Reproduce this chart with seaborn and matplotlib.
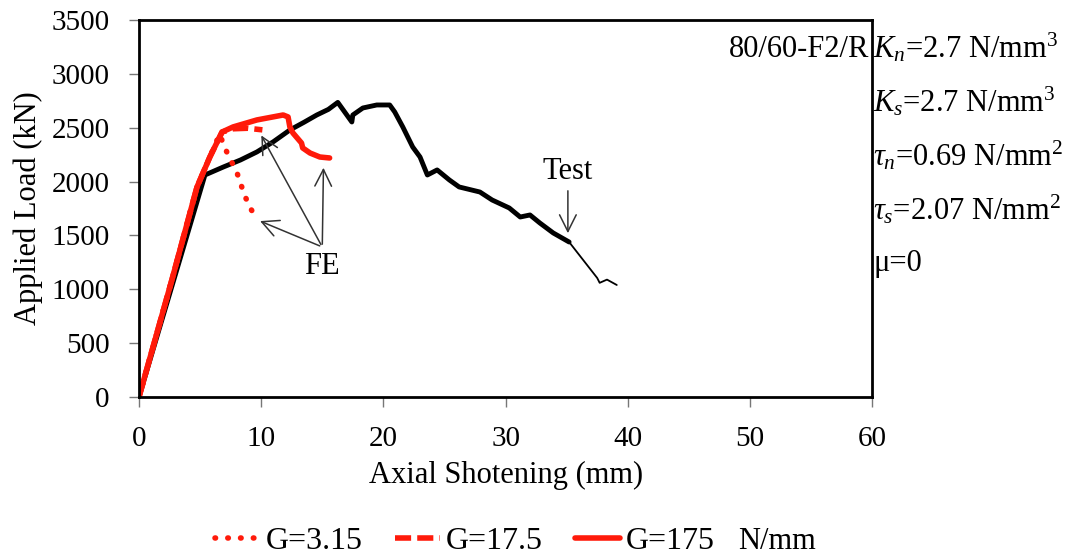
import matplotlib
matplotlib.use("Agg")
import matplotlib.pyplot as plt
import seaborn as sns

# test curve (thick part) and its thin tail
test_x = [0, 2.7, 5.4, 6.9, 8.3, 9.65, 11.0, 12.35, 13.5, 14.55, 15.5, 16.27,
          17.42, 17.5, 18.32, 19.46, 20.52, 20.93, 21.59, 22.4, 23.0, 23.6,
          24.4, 25.4, 26.2, 27.9, 28.9, 30.3, 31.2, 32.0, 32.8, 33.9, 35.2]
test_y = [0, 1030, 2061, 2135, 2200, 2275, 2370, 2479, 2550, 2618, 2670, 2735,
          2553, 2618, 2683, 2711, 2711, 2646, 2507, 2321, 2228, 2061,
          2108, 2015, 1950, 1903, 1829, 1755, 1671, 1690, 1616, 1523, 1439]
tail_x = [35.2, 37.5, 37.7, 38.3, 39.1]
tail_y = [1439, 1105, 1060, 1090, 1040]

# FE curves
g175_x = [0, 2.7, 4.75, 5.8, 6.8, 7.7, 9.65, 11.8, 12.2, 12.35, 12.6, 13.3,
          13.4, 14.0, 14.8, 15.6]
g175_y = [0, 1090, 1950, 2228, 2460, 2507, 2572, 2618, 2600, 2507, 2451, 2358,
          2312, 2265, 2228, 2219]
g175b_x = [0, 2.7, 4.75, 5.8, 6.8, 7.7, 8.9, 10.1]
g175b_y = [0, 1090, 1950, 2228, 2460, 2490, 2495, 2480]
g3_x = [0, 2.7, 4.75, 5.8, 6.6, 7.03, 7.5, 8.0, 8.3, 8.67, 9.1, 9.6]
g3_y = [0, 1090, 1950, 2228, 2440, 2312, 2200, 2089, 1987, 1866, 1755, 1665]

legend_labels = ["G=3.15", "G=17.5", "G=175"]
params = [r"$K_n$=2.7 N/mm$^3$", r"$K_s$=2.7 N/mm$^3$",
          r"$\tau_n$=0.69 N/mm$^2$", r"$\tau_s$=2.07 N/mm$^2$", "\u03bc=0"]

sns.set_style("ticks")
plt.rcParams['font.family'] = ['Liberation Serif', 'DejaVu Serif']
plt.rcParams['mathtext.fontset'] = 'custom'
plt.rcParams['mathtext.rm'] = 'Liberation Serif'
plt.rcParams['mathtext.it'] = 'Liberation Serif:italic'
plt.rcParams['text.color'] = 'black'
plt.rcParams['axes.labelcolor'] = 'black'
plt.rcParams['xtick.labelcolor'] = 'black'
plt.rcParams['ytick.labelcolor'] = 'black'

fig = plt.figure(figsize=(10.79, 5.58), dpi=100)
ax = fig.add_axes([0.1288, 0.2885, 0.6795, 0.6757])

red = '#ff1a0a'
sns.lineplot(x=test_x, y=test_y, sort=False, estimator=None, color='black', lw=3.5, ax=ax)
sns.lineplot(x=tail_x, y=tail_y, sort=False, estimator=None, color='black', lw=1.3, ax=ax)
l1 = sns.lineplot(x=g3_x, y=g3_y, sort=False, estimator=None, color=red, lw=4,
                  linestyle=(0, (0.1, 2.2)), dash_capstyle='round', ax=ax).lines[-1]
l2 = sns.lineplot(x=g175b_x, y=g175b_y, sort=False, estimator=None, color=red, lw=4,
                  linestyle=(0, (2.9, 1.1)), ax=ax).lines[-1]
l3 = sns.lineplot(x=g175_x, y=g175_y, sort=False, estimator=None, color=red, lw=4,
                  solid_capstyle='round', ax=ax).lines[-1]

ax.set_xlim(0, 60)
ax.set_ylim(0, 3500)
ax.set_xticks(range(0, 61, 10))
ax.set_yticks(range(0, 3501, 500))
ax.tick_params(direction='out', length=7, width=1, color='#777777', labelsize=21)
ax.tick_params(axis='y', pad=14)
ax.tick_params(axis='x', pad=14)
for s in ax.spines.values():
    s.set_visible(True)
    s.set_linewidth(2)
    s.set_color('black')
ax.set_xlabel("Axial Shotening (mm)", fontsize=22, labelpad=6)
ax.set_ylabel("Applied Load (kN)", fontsize=22, labelpad=6)

# annotations
arr = dict(arrowstyle='->', color='#333333', lw=1.1, mutation_scale=30)
for hx, hy in [(9.7, 1643), (9.9, 2451), (15.1, 2154)]:
    ax.annotate("", xy=(hx, hy), xytext=(15.0, 1393), arrowprops=arr)
ax.text(15.0, 1207, "FE", fontsize=22, ha='center', va='center')
ax.annotate("", xy=(35.1, 1495), xytext=(35.1, 1940), arrowprops=arr)
ax.text(35.1, 2090, "Test", fontsize=22, ha='center', va='center')
ax.text(59.8, 3230, "80/60-F2/R", fontsize=22, ha='right', va='center')

for i, p in enumerate(params):
    fig.text(873 / 1079, 1 - (48 + 54 * i) / 558, p, fontsize=22, ha='left', va='center')

fig.legend([l1, l2, l3], legend_labels, loc='center', bbox_to_anchor=(0.431, 0.029),
           ncol=3, frameon=False, fontsize=23, handlelength=1.4, handletextpad=0.2,
           columnspacing=1.0)
fig.text(738 / 1079, 0.029, "N/mm", fontsize=22, ha='left', va='center')

fig.savefig("out.png", dpi=100)
